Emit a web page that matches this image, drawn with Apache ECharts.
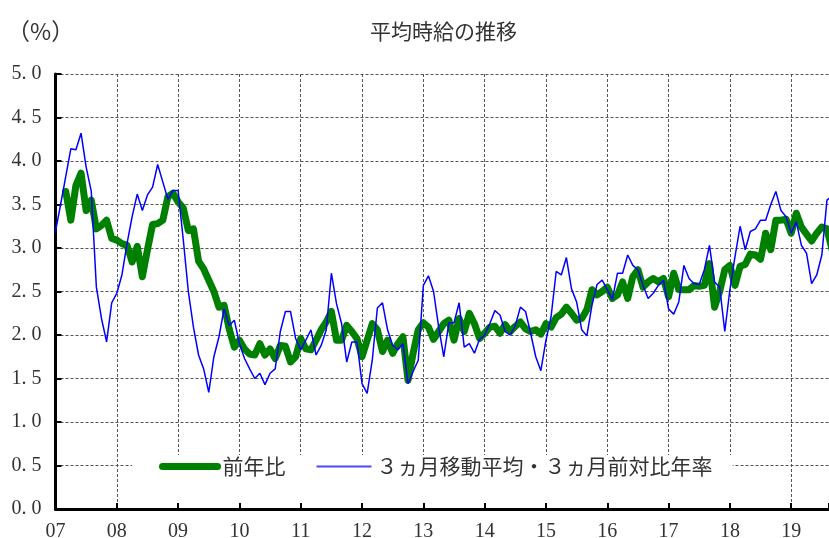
<!DOCTYPE html>
<html>
<head>
<meta charset="utf-8">
<script src="https://cdn.jsdelivr.net/npm/echarts@6/dist/echarts.min.js"></script>
<style>html,body{margin:0;padding:0;background:#fff}#c{width:829px;height:538px}</style>
</head>
<body>
<div id="c"></div>
<script>
// Monthly data starting Jan 2007 (index 0)
const yearLabels = ['07','08','09','10','11','12','13','14','15','16','17','18','19'];
const seriesNames = ['前年比', '３ヵ月移動平均・３ヵ月前対比年率'];
const yoy = [
 null,null,3.65,3.32,3.72,3.86,3.43,3.55,3.22,3.26,3.32,3.11,
 3.09,3.05,3.03,2.84,3.02,2.67,2.98,3.27,3.28,3.32,3.59,3.63,
 3.53,3.46,3.20,3.22,2.85,2.76,2.63,2.50,2.32,2.34,2.07,1.86,
 1.94,1.84,1.78,1.77,1.90,1.77,1.84,1.73,1.88,1.87,1.69,1.75,
 1.96,1.84,1.83,1.94,2.06,2.15,2.27,1.94,1.94,2.11,2.04,1.96,
 1.75,1.94,2.13,2.06,1.81,1.94,1.79,1.90,1.98,1.48,1.79,2.06,
 2.14,2.09,1.95,2.04,2.13,2.17,1.94,2.19,2.04,2.25,2.13,1.96,
 2.02,2.09,2.10,2.02,2.12,2.04,2.10,2.15,2.07,2.04,2.06,2.01,
 2.13,2.09,2.20,2.24,2.32,2.25,2.17,2.19,2.29,2.52,2.46,2.50,
 2.55,2.42,2.46,2.61,2.42,2.67,2.75,2.55,2.61,2.65,2.61,2.65,
 2.44,2.71,2.52,2.52,2.52,2.57,2.56,2.57,2.82,2.32,2.50,2.75,
 2.80,2.57,2.79,2.81,2.93,2.92,2.87,3.17,2.98,3.32,3.32,3.33,
 3.17,3.40,3.24,3.16,3.08,3.17,3.24,3.22,2.98
];
const ma3 = [
 3.19,3.50,3.82,4.14,4.13,4.32,3.93,3.65,2.55,2.19,1.92,2.37,
 2.48,2.69,3.05,3.36,3.62,3.43,3.61,3.70,3.96,3.76,3.56,3.66,
 3.66,3.10,2.50,2.09,1.77,1.61,1.34,1.75,1.98,2.30,2.11,2.17,
 1.90,1.73,1.61,1.50,1.56,1.43,1.56,1.61,2.04,2.27,2.27,1.96,
 1.83,1.94,2.06,1.77,1.88,2.06,2.71,2.36,2.13,1.69,1.92,1.92,
 1.44,1.33,1.71,2.31,2.37,2.06,1.88,1.83,1.90,1.44,1.58,1.71,
 2.57,2.68,2.50,2.09,1.75,2.14,2.14,2.37,1.86,1.90,1.79,1.95,
 2.00,2.13,2.28,2.23,2.04,2.00,2.11,2.32,2.27,2.02,1.75,1.59,
 1.94,2.21,2.73,2.69,2.89,2.53,2.38,2.06,1.99,2.34,2.58,2.63,
 2.52,2.41,2.71,2.71,2.92,2.80,2.75,2.57,2.42,2.48,2.57,2.63,
 2.30,2.24,2.38,2.80,2.65,2.59,2.58,2.75,3.03,2.61,2.55,2.04,
 2.52,2.90,3.25,2.98,3.19,3.22,3.32,3.32,3.50,3.65,3.43,3.36,
 3.17,3.30,3.03,2.94,2.59,2.69,2.92,3.55,3.60
];

const toPairs = arr => arr.map((v, i) => [i, v]);
const numFont = "'Liberation Serif', 'DejaVu Serif', serif";
const jpFont = "'Noto Sans CJK JP', sans-serif";
const xMax = 151.4;

const chart = echarts.init(document.getElementById('c'), null, {renderer: 'canvas'});
chart.setOption({
  animation: false,
  backgroundColor: '#fff',
  title: [
    {text: '平均時給の推移', left: 365, top: 16,
     textStyle: {fontFamily: jpFont, fontSize: 21, fontWeight: 'normal', color: '#333'}},
    {text: '（%）', left: 2, top: 15,
     textStyle: {fontFamily: jpFont, fontSize: 23, fontWeight: 'normal', color: '#333'}}
  ],
  grid: {left: 55.5, right: 0, top: 74, bottom: 29, containLabel: false, outerBoundsMode: 'none'},
  legend: {
    left: 132, top: 455,
    padding: [1, 20, 34, 27],
    backgroundColor: '#fff',
    itemWidth: 55, itemHeight: 14, itemGap: 30,
    textStyle: {fontFamily: jpFont, fontSize: 21, color: '#333'},
    data: [
      {name: seriesNames[0], itemStyle: {opacity: 0}, lineStyle: {width: 7, cap: 'round', color: '#008000'}},
      {name: seriesNames[1], itemStyle: {opacity: 0}, lineStyle: {width: 2, color: '#4a4aff'}}
    ]
  },
  xAxis: [
    {
      type: 'value', min: 0, max: xMax, interval: 12,
      axisLine: {show: false},
      axisTick: {show: false},
      axisLabel: {
        showMaxLabel: false, margin: 13,
        fontFamily: numFont, fontSize: 20, color: '#333',
        formatter: v => yearLabels[Math.round(v / 12)] || ''
      },
      splitLine: {show: true, lineStyle: {color: '#555', width: 1, type: [3, 2]}}
    },
    {
      type: 'value', min: 0, max: xMax, interval: 12, position: 'bottom', z: 10,
      axisLine: {show: true, onZero: false, lineStyle: {color: '#000', width: 3}},
      axisTick: {show: true, inside: true, length: 6, lineStyle: {color: '#000', width: 2}},
      axisLabel: {show: false},
      splitLine: {show: false}
    }
  ],
  yAxis: {
    type: 'value', min: 0, max: 5, interval: 0.5,
    axisLine: {show: true, lineStyle: {color: '#000', width: 3}},
    axisTick: {show: true, inside: true, length: 6, lineStyle: {color: '#000', width: 2}},
    axisLabel: {margin: 14, fontFamily: numFont, fontSize: 20, color: '#333',
      formatter: v => v.toFixed(1).replace('.', '. ')},
    splitLine: {show: true, lineStyle: {color: '#555', width: 1, type: [3, 2]}}
  },
  series: [
    {name: seriesNames[0], type: 'line', data: toPairs(yoy), symbol: 'none', z: 3,
     lineStyle: {color: '#008000', width: 7, join: 'round', cap: 'round'},
     itemStyle: {color: '#008000'}},
    {name: seriesNames[1], type: 'line', data: toPairs(ma3), symbol: 'none', z: 4,
     lineStyle: {color: '#0000ff', width: 1.5},
     itemStyle: {color: '#0000ff'}}
  ]
});
</script>
</body>
</html>
